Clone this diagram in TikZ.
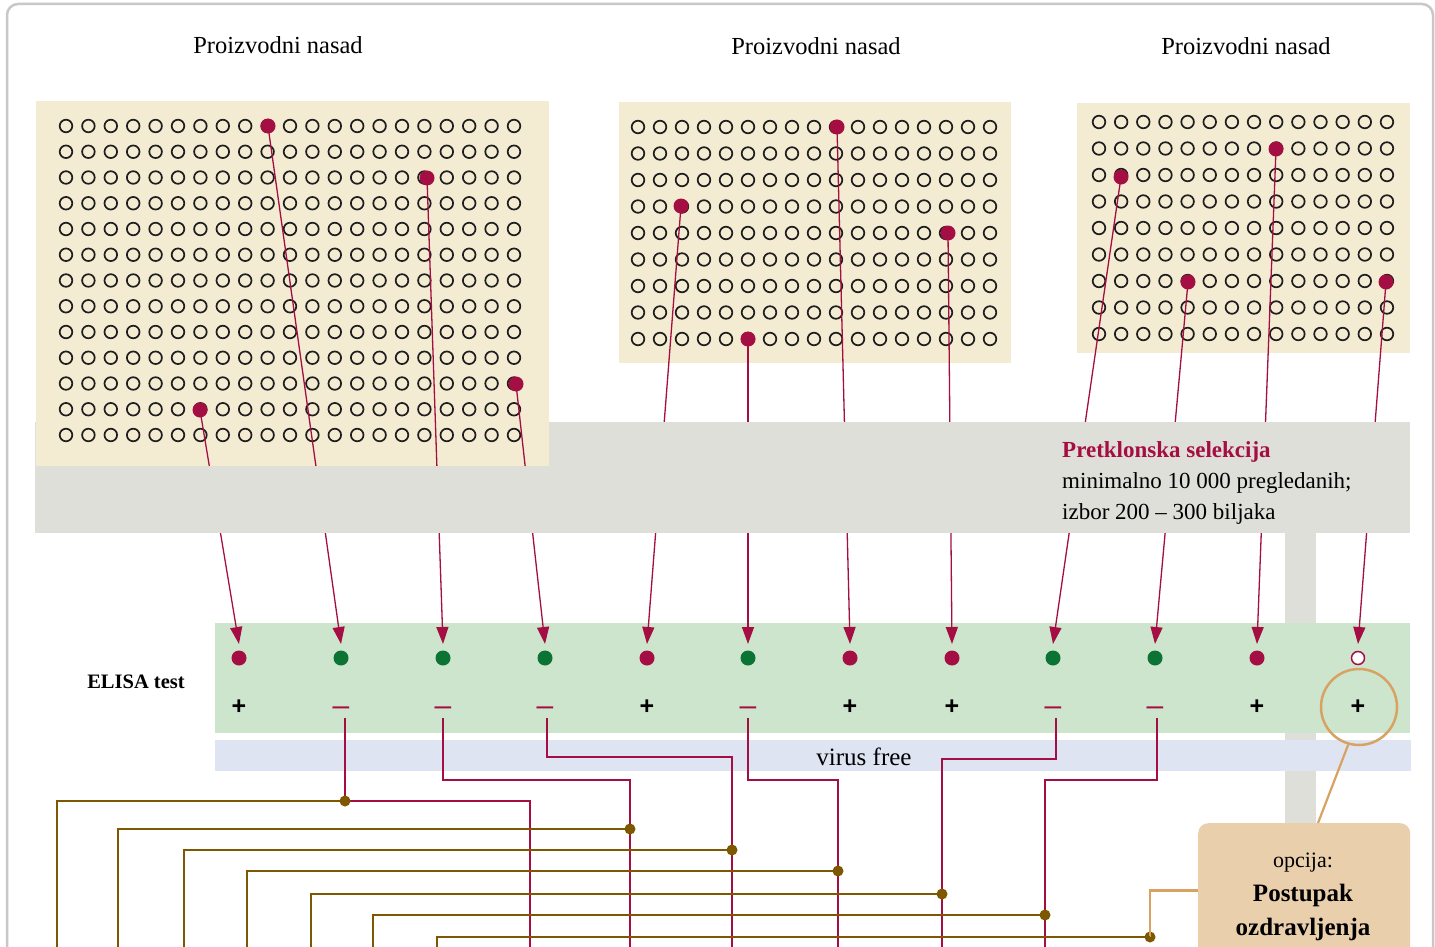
\documentclass[tikz,border=0pt]{standalone}
\usepackage{fontspec}
\setmainfont{Liberation Serif}
\newfontfamily\plusfont{Liberation Sans}
\usetikzlibrary{arrows.meta}
\definecolor{crim}{HTML}{A50E42}
\definecolor{dgreen}{HTML}{0B7333}
\definecolor{beige}{HTML}{F3EBD2}
\definecolor{bandgrey}{HTML}{DFDFDA}
\definecolor{lgreen}{HTML}{CDE5CC}
\definecolor{lblue}{HTML}{DFE4F2}
\definecolor{brownc}{HTML}{7D5800}
\definecolor{orangec}{HTML}{D8A262}
\definecolor{boxc}{HTML}{EACFAD}
\definecolor{framec}{HTML}{C8C8C8}
\definecolor{holec}{HTML}{1E1E1E}
\tikzset{
  hole/.style={draw=holec, line width=1.7pt},
  rdot/.style={circle, fill=crim, inner sep=0pt, minimum size=15pt},
  gdot/.style={circle, fill=dgreen, inner sep=0pt, minimum size=15pt},
  wdot/.style={circle, fill=white, draw=crim, line width=1.5pt, inner sep=0pt, minimum size=13pt},
  conn/.style={crim, line width=1.3pt, -{Triangle[length=17pt,width=12pt]}},
  rline/.style={crim, line width=2.5pt},
  bline/.style={brownc, line width=2.8pt},
  bdot/.style={circle, fill=brownc, inner sep=0pt, minimum size=11pt},
  oline/.style={orangec, line width=2.8pt},
  plussign/.style={font=\plusfont\bfseries\fontsize{25}{25}\selectfont, inner sep=0pt},
  minussign/.style={font=\plusfont\fontsize{30}{30}\selectfont, text=crim, inner sep=0pt},
  title/.style={font=\fontsize{24.5}{29}\selectfont, inner sep=0pt, anchor=base},
  body/.style={font=\fontsize{23}{27}\selectfont, inner sep=0pt, anchor=base west}
}
\begin{document}
\begin{tikzpicture}[x=1pt,y=-1pt]
\useasboundingbox (0,0) rectangle (1435,947);
\fill[white] (0,0) rectangle (1435,947);
% outer frame
\draw[framec, line width=2.5pt, rounded corners=11pt] (7,980) -- (7,4) -- (1433,4) -- (1433,980);

% grey selection band and vertical bar
\fill[bandgrey] (35,422) rectangle (1410,533);
\fill[bandgrey] (1285,533) rectangle (1316,830);

% ELISA band and virus-free band
\fill[lgreen] (215,623) rectangle (1410,733);
\fill[lblue] (215,740) rectangle (1411,771);

% plantations
\fill[beige] (36,101) rectangle (549,466);
\fill[beige] (619,102) rectangle (1011,363);
\fill[beige] (1077,103) rectangle (1410,353);
\foreach \r in {0,...,12}{\foreach \c in {0,...,20}{
  \draw[hole] ({66+\c*22.4},{126+\r*25.75}) circle[radius=6.3];}}
\foreach \r in {0,...,8}{\foreach \c in {0,...,16}{
  \draw[hole] ({638+\c*22},{127+\r*26.5}) circle[radius=6.3];}}
\foreach \r in {0,...,8}{\foreach \c in {0,...,13}{
  \draw[hole] ({1099+\c*22.15},{122+\r*26.5}) circle[radius=6.3];}}

% titles
\node[title] (t1) at (278,54) {Proizvodni nasad};
\node[title] (t2) at (816,55) {Proizvodni nasad};
\node[title] (t3) at (1246,55) {Proizvodni nasad};

% selected plants
\node[rdot] (p1) at (268,126) {};
\node[rdot] (p2) at (427,178) {};
\node[rdot] (p3) at (516,384) {};
\node[rdot] (p4) at (200,410) {};
\node[rdot] (q1) at (837,127) {};
\node[rdot] (q2) at (681,206) {};
\node[rdot] (q3) at (948,233) {};
\node[rdot] (q4) at (748,339) {};
\node[rdot] (s1) at (1276,149) {};
\node[rdot] (s2) at (1121,177) {};
\node[rdot] (s3) at (1188,282) {};
\node[rdot] (s4) at (1386,282) {};

% ELISA results
\node[rdot] (e1) at (239,658) {};
\node[gdot] (e2) at (341,658) {};
\node[gdot] (e3) at (443,658) {};
\node[gdot] (e4) at (545,658) {};
\node[rdot] (e5) at (647,658) {};
\node[gdot] (e6) at (748,658) {};
\node[rdot] (e7) at (850,658) {};
\node[rdot] (e8) at (952,658) {};
\node[gdot] (e9) at (1053,658) {};
\node[gdot] (e10) at (1155,658) {};
\node[rdot] (e11) at (1257,658) {};
\node[wdot] (e12) at (1358,658) {};
\foreach \i/\x in {1/239,2/341,3/443,4/545,5/647,6/748,7/850,8/952,9/1053,10/1155,11/1257,12/1358}{
  \coordinate (tip\i) at (\x,644);}

% connectors plant -> test
\draw[conn] (p4.center) -- (tip1);
\draw[conn] (p1.center) -- (tip2);
\draw[conn] (p2.center) -- (tip3);
\draw[conn] (p3.center) -- (tip4);
\draw[conn] (q2.center) -- (tip5);
\draw[conn] (q4.center) -- (tip6);
\draw[conn] (q1.center) -- (tip7);
\draw[conn] (q3.center) -- (tip8);
\draw[conn] (s2.center) -- (tip9);
\draw[conn] (s3.center) -- (tip10);
\draw[conn] (s1.center) -- (tip11);
\draw[conn] (s4.center) -- (tip12);

% band covers the connectors
\fill[bandgrey] (549,422) rectangle (1410,533);
\fill[bandgrey] (35,466) rectangle (549,533);
\node[body, text=crim, font=\bfseries\fontsize{23}{27}\selectfont] (sel) at (1062,457) {Pretklonska selekcija};
\node[body] (sel2) at (1062,488) {minimalno 10 000 pregledanih;};
\node[body] (sel3) at (1062,519) {izbor 200 – 300 biljaka};

% labels of bands
\node[font=\bfseries\fontsize{20.5}{24}\selectfont, inner sep=0pt, anchor=base] (elisa) at (136,688) {ELISA test};
\node[font=\fontsize{25}{29}\selectfont, inner sep=0pt, anchor=base] (vf) at (864,765) {virus free};

% signs
\foreach \i/\x in {1/239,5/647,7/850,8/952,11/1257,12/1358}{
  \node[plussign] (sg\i) at (\x,707) {+};}
\foreach \i/\x in {2/341,3/443,4/545,6/748,9/1053,10/1155}{
  \node[minussign] (sg\i) at (\x,711) {–};}

% virus-free routing
\draw[rline] (345,718) -- (345,801) -- (530,801) -- (530,960);
\draw[rline] (443,718) -- (443,780) -- (630,780) -- (630,960);
\draw[rline] (547,718) -- (547,757) -- (732,757) -- (732,960);
\draw[rline] (748,718) -- (748,780) -- (838,780) -- (838,960);
\draw[rline] (1056,718) -- (1056,759) -- (942,759) -- (942,960);
\draw[rline] (1157,718) -- (1157,780) -- (1045,780) -- (1045,960);

% option box
\node[fill=boxc, rounded corners=10pt, anchor=north west, minimum width=212pt, minimum height=134pt, inner sep=0pt] (opt) at (1198,823) {};
\node[font=\fontsize{22}{26}\selectfont, inner sep=0pt, anchor=base] (o1) at (1303,867) {opcija:};
\node[font=\bfseries\fontsize{25}{29}\selectfont, inner sep=0pt, anchor=base] (o2) at (1303,901) {Postupak};
\node[font=\bfseries\fontsize{25}{29}\selectfont, inner sep=0pt, anchor=base] (o3) at (1303,935) {ozdravljenja};
\node[circle, draw=orangec, line width=2.5pt, minimum size=76pt, inner sep=0pt] (hl) at (1359,707) {};
\coordinate (optin) at (1318,823);
\draw[orangec, line width=2.2pt] (hl.254) -- (optin);

% brown junctions
\node[bdot] (b1) at (345,801) {};
\node[bdot] (b2) at (630,829) {};
\node[bdot] (b3) at (732,850) {};
\node[bdot] (b4) at (838,871) {};
\node[bdot] (b5) at (942,894) {};
\node[bdot] (b6) at (1045,915) {};
\node[bdot] (b7) at (1150,937) {};
\draw[oline] (opt.west) -| (b7.center);
\draw[bline] (b1.center) -- (57,801) -- (57,960);
\draw[bline] (b2.center) -- (118,829) -- (118,960);
\draw[bline] (b3.center) -- (184,850) -- (184,960);
\draw[bline] (b4.center) -- (247,871) -- (247,960);
\draw[bline] (b5.center) -- (311,894) -- (311,960);
\draw[bline] (b6.center) -- (373,915) -- (373,960);
\draw[bline] (b7.center) -- (437,937) -- (437,960);
\end{tikzpicture}
\end{document}
